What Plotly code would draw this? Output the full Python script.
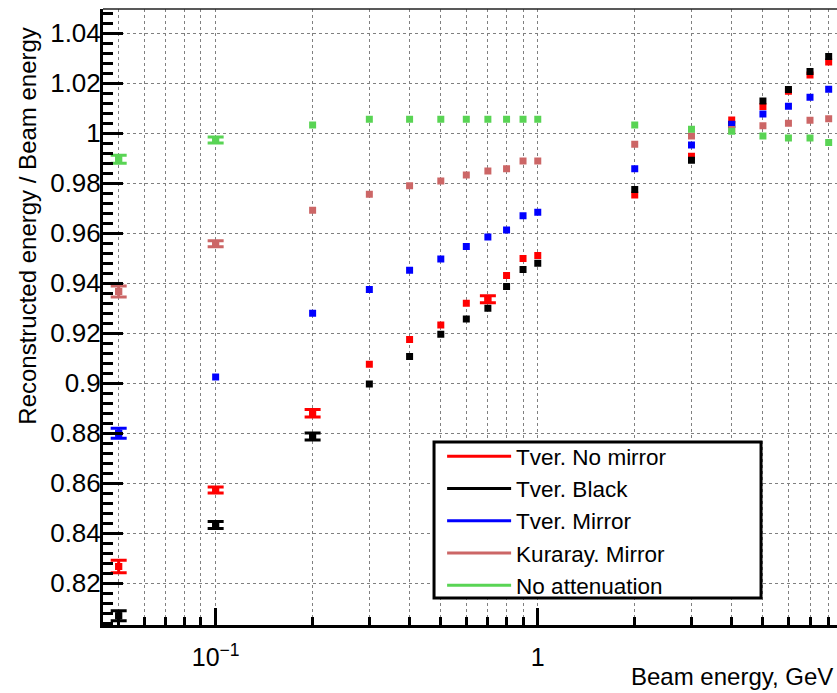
import math
import plotly.graph_objects as go

# Beam energies (GeV)
energies = [0.05, 0.1, 0.2, 0.3, 0.4, 0.5, 0.6, 0.7, 0.8, 0.9, 1, 2, 3, 4, 5, 6, 7, 8]

# Reconstructed / beam energy ratio for each configuration
tver_no_mirror = [0.8267, 0.8573, 0.8880, 0.9076, 0.9175, 0.9233, 0.9320, 0.9336, 0.9431,
                  0.9499, 0.9511, 0.9753, 0.9908, 1.0053, 1.0107, 1.0168, 1.0233, 1.0285]
tver_black = [0.8070, 0.8433, 0.8787, 0.8997, 0.9107, 0.9196, 0.9257, 0.9300, 0.9387,
              0.9455, 0.9480, 0.9775, 0.9892, 1.0035, 1.0129, 1.0175, 1.0247, 1.0307]
tver_mirror = [0.8800, 0.9025, 0.9280, 0.9375, 0.9452, 0.9497, 0.9547, 0.9585, 0.9613,
               0.9670, 0.9684, 0.9858, 0.9953, 1.0036, 1.0077, 1.0108, 1.0144, 1.0176]
kuraray_mirror = [0.9367, 0.9558, 0.9692, 0.9756, 0.9790, 0.9809, 0.9833, 0.9849, 0.9858,
                  0.9889, 0.9889, 0.9956, 0.9989, 1.0015, 1.0030, 1.0040, 1.0052, 1.0058]
no_attenuation = [0.9896, 0.9973, 1.0033, 1.0056, 1.0056, 1.0056, 1.0056, 1.0056, 1.0056,
                  1.0056, 1.0056, 1.0033, 1.0016, 1.0008, 0.9989, 0.9981, 0.9981, 0.9963]

# Statistical errors (None where the bar is hidden by the marker)
err_no_mirror = [0.0025, 0.0012, 0.0015, None, None, None, None, 0.0014, None,
                 None, None, None, None, None, None, None, None, None]
err_black = [0.0020, 0.0014, 0.0014, None, None, None, None, None, None,
             None, None, None, None, None, None, None, None, None]
err_mirror = [0.0020, None, None, None, None, None, None, None, None,
              None, None, None, None, None, None, None, None, None]
err_kuraray = [0.0022, 0.0012, None, None, None, None, None, None, None,
               None, None, None, None, None, None, None, None, None]
err_no_att = [0.0016, 0.0012, None, None, None, None, None, None, None,
              None, None, None, None, None, None, None, None, None]

series_names = ["Tver. No mirror", "Tver. Black", "Tver. Mirror", "Kuraray. Mirror", "No attenuation"]
series_values = [tver_no_mirror, tver_black, tver_mirror, kuraray_mirror, no_attenuation]
series_errors = [err_no_mirror, err_black, err_mirror, err_kuraray, err_no_att]
series_colors = ["#ff0000", "#000000", "#0000ff", "#cc6666", "#59d454"]

# Axis ticks
y_tick_vals = [0.82, 0.84, 0.86, 0.88, 0.90, 0.92, 0.94, 0.96, 0.98, 1.00, 1.02, 1.04]
y_tick_text = ["0.82", "0.84", "0.86", "0.88", "0.9", "0.92", "0.94", "0.96", "0.98", "1", "1.02", "1.04"]
x_major_vals = [0.1, 1]
x_major_text = ["10<sup>\u22121</sup>", "1"]
x_minor_vals = [0.05, 0.06, 0.07, 0.08, 0.09, 0.2, 0.3, 0.4, 0.5, 0.6, 0.7, 0.8, 0.9,
                2, 3, 4, 5, 6, 7, 8, 9]

FONT = "Liberation Sans, Arial, Helvetica, sans-serif"
GRID = dict(showgrid=True, gridcolor="#808080", griddash="dot", gridwidth=1)

fig = go.Figure()

for name, vals, errs, col in zip(series_names, series_values, series_errors, series_colors):
    # all points
    fig.add_trace(go.Scatter(
        x=energies, y=vals, mode="markers", showlegend=False, name=name,
        marker=dict(symbol="square", size=7, color=col, line=dict(width=0)),
    ))
    # points whose error bars stick out of the marker
    idx = [i for i, e in enumerate(errs) if e is not None]
    if idx:
        fig.add_trace(go.Scatter(
            x=[energies[i] for i in idx], y=[vals[i] for i in idx], mode="markers",
            showlegend=False, name=name,
            marker=dict(symbol="square", size=7, color=col, line=dict(width=0)),
            error_y=dict(type="data", array=[errs[i] for i in idx], visible=True,
                         color=col, thickness=3, width=8),
        ))

# legend entries drawn as line samples
for name, col in zip(series_names, series_colors):
    fig.add_trace(go.Scatter(
        x=[None], y=[None], mode="lines", name=name,
        line=dict(color=col, width=3), showlegend=True,
    ))

fig.update_layout(
    width=837, height=693, autosize=False,
    margin=dict(l=103, r=0, t=9, b=68, pad=0),
    paper_bgcolor="white", plot_bgcolor="white",
    font=dict(family=FONT, size=24, color="black"),
    showlegend=True,
    legend=dict(
        x=0.462, y=0.3084, xanchor="left", yanchor="top",
        bgcolor="rgba(0,0,0,0)", borderwidth=0,
        font=dict(family=FONT, size=22.5, color="black"),
        itemwidth=64, tracegroupgap=0,
    ),
    xaxis=dict(
        type="log",
        range=[math.log10(0.0447), math.log10(8.49)],
        tickmode="array", tickvals=x_major_vals, ticktext=x_major_text,
        ticks="inside", ticklen=17, tickwidth=3, tickcolor="black",
        showline=True, linewidth=3, linecolor="black",
        zeroline=False,
        tickfont=dict(family=FONT, size=25),
        ticklabelstandoff=8,
        minor=dict(tickmode="array", tickvals=x_minor_vals, ticks="inside",
                   ticklen=8, tickwidth=3, tickcolor="black", **GRID),
        **GRID,
    ),
    yaxis=dict(
        range=[0.8033, 1.0497],
        tickmode="array", tickvals=y_tick_vals, ticktext=y_tick_text,
        ticks="inside", ticklen=20, tickwidth=3, tickcolor="black",
        showline=True, linewidth=3, linecolor="black",
        zeroline=False,
        tickfont=dict(family=FONT, size=26),
        ticklabelstandoff=-6,
        minor=dict(dtick=0.004, tick0=0.8, ticks="inside", ticklen=10, tickwidth=3,
                   tickcolor="black", showgrid=False),
        **GRID,
    ),
    shapes=[
        # top frame edge
        dict(type="line", xref="paper", yref="paper", x0=0, x1=1, y0=1, y1=1,
             line=dict(color="#222222", width=1.5), layer="above"),
        # legend frame
        dict(type="rect", xref="paper", yref="paper", x0=0.451, x1=0.8965,
             y0=0.0438, y1=0.2971, fillcolor="white",
             line=dict(color="black", width=3), layer="above"),
    ],
    annotations=[
        dict(text="Beam energy, GeV", xref="paper", yref="paper",
             x=0.997, y=-0.0828, xanchor="right", yanchor="middle", showarrow=False,
             font=dict(family=FONT, size=24)),
        dict(text="Reconstructed energy / Beam energy", xref="paper", yref="paper",
             x=-0.104, y=0.974, xanchor="center", yanchor="top", textangle=-90,
             showarrow=False, font=dict(family=FONT, size=24)),
    ],
)

fig.write_html("out.html")
